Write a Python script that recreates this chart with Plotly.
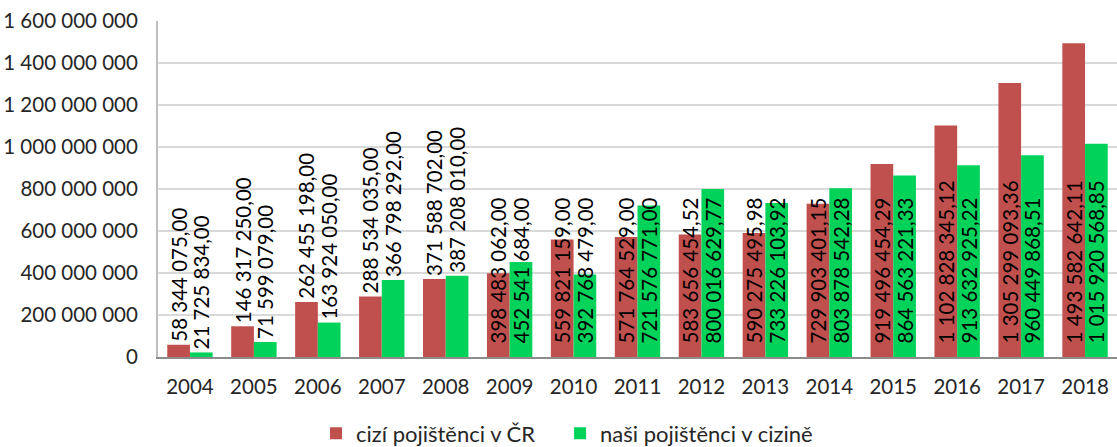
import plotly.graph_objects as go

years = ["2004", "2005", "2006", "2007", "2008", "2009", "2010", "2011",
         "2012", "2013", "2014", "2015", "2016", "2017", "2018"]
cizi = [58344075.00, 146317250.00, 262455198.00, 288534035.00, 371588702.00,
        398483062.00, 559821159.00, 571764529.00, 583656454.52, 590275495.98,
        729903401.15, 919496454.29, 1102828345.12, 1305299093.36, 1493582642.11]
nasi = [21725834.00, 71599079.00, 163924050.00, 366798292.00, 387208010.00,
        452541684.00, 392768479.00, 721576771.00, 800016629.77, 733226103.92,
        803878542.28, 864563221.33, 913632925.22, 960449868.51, 1015920568.85]
series_names = ["cizí pojištěnci v ČR", "naši pojištěnci v cizině"]
tick_values = [0, 200e6, 400e6, 600e6, 800e6, 1000e6, 1200e6, 1400e6, 1600e6]
# label placement per year: first five above the bar, the rest at the bar base
label_pos = ["outside"] * 5 + ["inside"] * 10


def fmt_int(v):
    return f"{int(round(v)):,}".replace(",", " ")


def fmt_dec(v):
    s = f"{v:,.2f}"
    return s.replace(",", " ").replace(".", ",")


PAD = "\u00a0\u00a0"
FONT = "Lato"
FS = 20.5
RED = "#C0504D"
GREEN = "#00D25A"

fig = go.Figure()
for name, vals, col, leg in [(series_names[0], cizi, RED, "legend"),
                             (series_names[1], nasi, GREEN, "legend2")]:
    texts = [(PAD if p == "inside" else "") + fmt_dec(v) for v, p in zip(vals, label_pos)]
    fig.add_trace(go.Bar(
        x=years, y=vals, name=name, legend=leg, showlegend=True,
        marker=dict(color=col, line=dict(width=0)),
        text=texts,
        textposition=label_pos, insidetextanchor="start", textangle=-90,
        constraintext="none", cliponaxis=False,
        textfont=dict(family=FONT, size=FS, color="#000000"),
    ))

leg_common = dict(orientation="h", xref="container", yref="container",
                  xanchor="left", y=0.0773, yanchor="top", visible=True,
                  font=dict(family=FONT, size=22, color="#262626"))

fig.update_layout(
    width=1117, height=447, showlegend=True,
    margin=dict(l=158, r=0, t=21, b=90, autoexpand=False),
    paper_bgcolor="white", plot_bgcolor="white",
    barmode="group", bargap=0.29, bargroupgap=0,
    font=dict(family=FONT, size=FS, color="#262626"),
    legend=dict(x=0.2829, **leg_common),
    legend2=dict(x=0.5014, **leg_common),
    xaxis=dict(showgrid=False, showline=True, linecolor="#8C8C8C", linewidth=2,
               ticks="", ticklabelstandoff=10, range=[-0.5, 14.5], automargin=False,
               tickfont=dict(family=FONT, size=FS, color="#262626")),
    yaxis=dict(range=[0, 1600e6], tickvals=tick_values,
               ticktext=[fmt_int(v) for v in tick_values],
               showgrid=True, gridcolor="#D9D9D9", gridwidth=2,
               showline=True, linecolor="#BFBFBF", linewidth=2, automargin=False,
               zeroline=False, ticks="", ticklabelstandoff=14,
               ticklabeloverflow="allow",
               tickfont=dict(family=FONT, size=FS, color="#262626")),
)

fig.write_html("out.html", config={"displayModeBar": False},
               post_script="document.body.style.margin='0';")
